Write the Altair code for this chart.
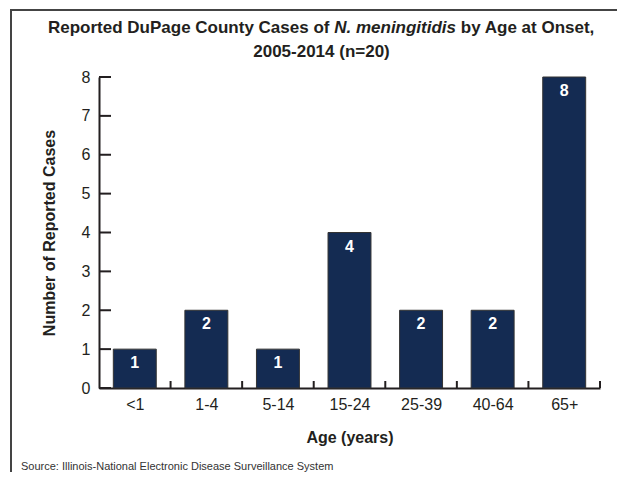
import json
import altair as alt
import pandas as pd

# ---- data ----
ages = ["<1", "1-4", "5-14", "15-24", "25-39", "40-64", "65+"]
cases = [1, 2, 1, 4, 2, 2, 8]
y_ticks = [0, 1, 2, 3, 4, 5, 6, 7, 8]

title_part1 = "Reported DuPage County Cases of"
title_italic = "N. meningitidis"
title_part3 = "by Age at Onset,"
title_line2 = "2005-2014 (n=20)"
source_text = "Source: Illinois-National Electronic Disease Surveillance System"
x_title = "Age (years)"
y_title = "Number of Reported Cases"

# ---- layout ----
W, H = 501, 311
FONT = "Liberation Sans"
INK = "#231f20"
NAVY = "#142b52"
BAR_FRAC = 0.6

df = pd.DataFrame({"age": ages, "cases": cases, "idx": list(range(len(ages)))})
df_ticks = pd.DataFrame({"v": y_ticks})
one = pd.DataFrame({"k": [0]})

xscale = alt.Scale(domain=[-0.5, len(ages) - 0.5], nice=False, zero=False)
yscale = alt.Scale(domain=[0, max(y_ticks)], nice=False)

label_expr = json.dumps(ages) + "[datum.value]"

xaxis = alt.Axis(values=list(range(len(ages))), labelExpr=label_expr,
                 ticks=False, tickSize=0, grid=False, labelOverlap=False,
                 domainColor=INK, domainWidth=2,
                 labelFont=FONT, labelFontSize=16, labelColor=INK,
                 labelPadding=8,
                 title=x_title, titleFont=FONT, titleFontSize=16,
                 titleFontWeight="bold", titleColor=INK,
                 titleX=W / 2, titleY=49, titleBaseline="middle",
                 titleAlign="center")
yaxis = alt.Axis(values=y_ticks, ticks=False, tickSize=0, grid=False,
                 labelOverlap=False, tickCount=len(y_ticks),
                 domainColor=INK, domainWidth=2,
                 labelFont=FONT, labelFontSize=16, labelColor=INK,
                 labelPadding=9,
                 title=y_title, titleFont=FONT, titleFontSize=16,
                 titleFontWeight="bold", titleColor=INK,
                 titleX=-50, titleY=H / 2, titleAngle=270,
                 titleBaseline="middle", titleAlign="center")

base = alt.Chart(df)

bars = base.transform_calculate(
    x0=f"datum.idx - {BAR_FRAC/2}", x1=f"datum.idx + {BAR_FRAC/2}"
).mark_bar(color=NAVY, stroke="#333333", strokeWidth=1).encode(
    x=alt.X("x0:Q", scale=xscale, axis=xaxis, title=x_title),
    x2="x1:Q",
    y=alt.Y("cases:Q", scale=yscale, axis=yaxis, title=y_title),
    y2=alt.datum(0),
)

labels = base.mark_text(color="white", font=FONT, fontSize=16, fontWeight="bold",
                        baseline="middle", dy=14).encode(
    x=alt.X("idx:Q", scale=xscale, axis=xaxis, title=x_title),
    y=alt.Y("cases:Q", scale=yscale, axis=yaxis, title=y_title),
    text="cases:Q",
)

yt = alt.Chart(df_ticks).mark_rule(color=INK, strokeWidth=2).encode(
    y=alt.Y("v:Q", scale=yscale, axis=yaxis, title=y_title),
    x=alt.value(0), x2=alt.value(12),
)

xt = base.transform_calculate(b="datum.idx + 0.5").mark_rule(
    color=INK, strokeWidth=2).encode(
    x=alt.X("b:Q", scale=xscale, axis=xaxis, title=x_title),
    y=alt.value(H), y2=alt.value(H - 7),
)

# title pieces (Arial-metric bold at 17px)
FS = 17
SP = 0.278 * FS
split1 = 235.2
split2 = split1 + 121.9
t1 = alt.Chart(one).mark_text(text=title_part1, font=FONT, fontSize=FS, fontWeight="bold",
                              color=INK, align="right", baseline="alphabetic").encode(
    x=alt.value(split1 - SP), y=alt.value(-44))
t2 = alt.Chart(one).mark_text(text=title_italic, font=FONT, fontSize=FS, fontWeight="bold",
                              fontStyle="italic", color=INK, align="left",
                              baseline="alphabetic").encode(
    x=alt.value(split1), y=alt.value(-44))
t3 = alt.Chart(one).mark_text(text=title_part3, font=FONT, fontSize=FS, fontWeight="bold",
                              color=INK, align="left", baseline="alphabetic").encode(
    x=alt.value(split2 + SP), y=alt.value(-44))
t4 = alt.Chart(one).mark_text(text=title_line2, font=FONT, fontSize=FS, fontWeight="bold",
                              color=INK, align="center", baseline="alphabetic").encode(
    x=alt.value(222.5), y=alt.value(-20))
src = alt.Chart(one).mark_text(text=source_text, font=FONT, fontSize=11,
                               color="#333333", align="left", baseline="alphabetic").encode(
    x=alt.value(-78), y=alt.value(H + 82))

# frame (top and left lines)
frame_v = alt.Chart(one).mark_rule(color="#444444", strokeWidth=2).encode(
    x=alt.value(-88), y=alt.value(-67), y2=alt.value(H + 90))
frame_h = alt.Chart(one).mark_rule(color="#444444", strokeWidth=2).encode(
    x=alt.value(-89), x2=alt.value(W + 30), y=alt.value(-67))

chart = alt.layer(frame_v, frame_h, bars, labels, yt, xt, t1, t2, t3, t4, src).properties(
    width=W, height=H,
    autosize=alt.AutoSizeParams(type="none"),
    padding={"left": 91, "top": 69, "right": 17, "bottom": 84},
    background="white",
).configure_view(strokeWidth=0)

chart.save("out.html", embed_options={"renderer": "svg", "actions": False})
